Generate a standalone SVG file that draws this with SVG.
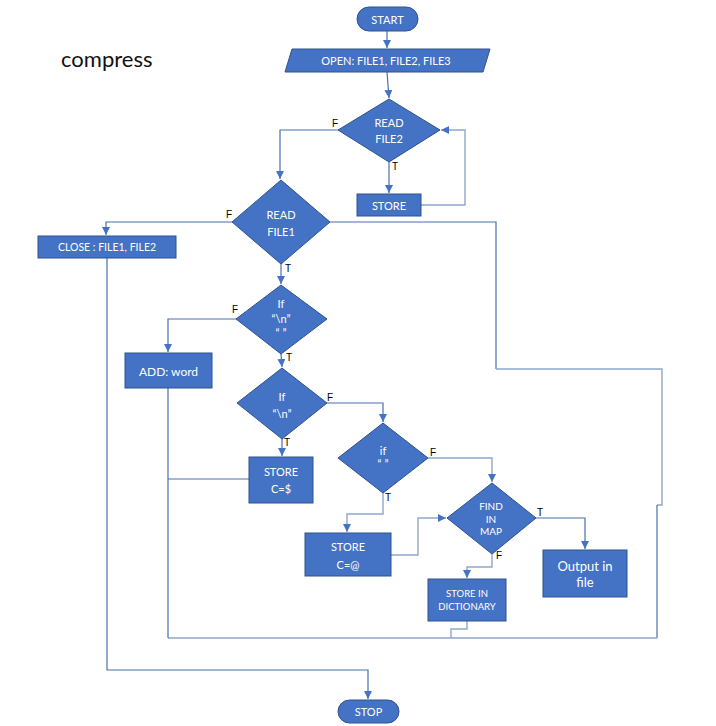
<svg xmlns="http://www.w3.org/2000/svg" width="716" height="726" viewBox="0 0 716 726">
<defs>
<marker id="arr" markerUnits="userSpaceOnUse" markerWidth="9" markerHeight="9" refX="8" refY="4" orient="auto">
<path d="M0,0 L8,4 L0,8 z" fill="#4472C4"/>
</marker>
<style>
.n{fill:#4472C4;stroke:#2F528F;stroke-width:1}
.t{fill:#fff;font-family:Lato,"Liberation Sans",sans-serif;font-size:11px;text-anchor:middle;dominant-baseline:central}
.c{fill:none;stroke:#4A6FAE;stroke-width:1.2}
.cl{fill:none;stroke:#8FA6CC;stroke-width:1.4}
.a{marker-end:url(#arr)}
.l{fill:#000;font-family:"Liberation Sans",Arial,sans-serif;font-size:10px}
</style>
</defs>
<rect width="716" height="726" fill="#fff"/>
<text x="61" y="67" font-family="Lato,'Liberation Sans',sans-serif" font-size="22" fill="#111">compress</text>

<g id="connectors">
<path class="c a" d="M387,31 L387,48"/>
<path class="c a" d="M387,72 L389,98"/>
<path class="c a" d="M338,130 L280,130 L280,179"/>
<path class="c a" d="M389,162 L389,193"/>
<path class="cl a" d="M421,205 L465,205 L465,130 L441,130"/>
<path class="c a" d="M232,222 L106,222 L106,235"/>
<path class="c a" d="M107,258 L107,670 L368,670 L368,699"/>
<path class="c a" d="M281,264 L281,284"/>
<path class="c" d="M330,222 L496,222 L496,369"/>
<path class="cl" d="M496,369 L662,369 L662,505 L657,505"/>
<path class="c" d="M657,505 L657,638"/>
<path class="cl" d="M657,638 L168,638"/>
<path class="c a" d="M236,319 L168,319 L168,352"/>
<path class="c" d="M168,388 L168,638"/>
<path class="c a" d="M281,354 L282,367"/>
<path class="c a" d="M327,403 L383,403 L383,422"/>
<path class="c a" d="M282,439 L282,456"/>
<path class="c" d="M249,479 L168,479"/>
<path class="cl a" d="M383,493 L383,514 L347,514 L347,532"/>
<path class="cl a" d="M428,458 L492,458 L492,482"/>
<path class="cl a" d="M391,555 L418,555 L418,518 L446,518"/>
<path class="c a" d="M536,518 L585,518 L585,549"/>
<path class="cl a" d="M492,554 L492,567 L467,567 L467,578"/>
<path class="cl" d="M467,621 L467,629 L451,629 L451,638"/>
</g>

<g id="start"><rect class="n" x="357" y="7" width="61" height="24" rx="12"/><text class="t" x="387.5" y="19">START</text></g>
<g id="open"><polygon class="n" points="292,49 490,49 483,72 285,72"/><text class="t" x="386" y="60.5">OPEN: FILE1, FILE2, FILE3</text></g>
<g id="readfile2"><polygon class="n" points="389,99 440,130 389,162 338,130"/><text class="t" x="389" y="122">READ</text><text class="t" x="389" y="138">FILE2</text></g>
<g id="store1"><rect class="n" x="357" y="194" width="64" height="22"/><text class="t" x="389" y="205">STORE</text></g>
<g id="readfile1"><polygon class="n" points="281,180 330,222 281,264 232,222"/><text class="t" x="281" y="214">READ</text><text class="t" x="281" y="231">FILE1</text></g>
<g id="close"><rect class="n" x="38" y="236" width="138" height="22"/><text class="t" x="107" y="247" style="font-size:10.5px">CLOSE : FILE1, FILE2</text></g>
<g id="if1"><polygon class="n" points="281,285 327,319 281,354 236,319"/><text class="t" x="281" y="303">If</text><text class="t" x="281" y="318">“\n”</text><text class="t" x="281" y="332">“ ”</text></g>
<g id="addword"><rect class="n" x="125" y="353" width="87" height="35"/><text class="t" x="168.5" y="371" style="font-size:12px">ADD: word</text></g>
<g id="if2"><polygon class="n" points="282,368 327,403 282,439 237,403"/><text class="t" x="282" y="396">If</text><text class="t" x="282" y="413">“\n”</text></g>
<g id="storedollar"><rect class="n" x="249" y="457" width="64" height="46"/><text class="t" x="281" y="471">STORE</text><text class="t" x="281" y="488">C=$</text></g>
<g id="if3"><polygon class="n" points="383,423 428,458 383,493 338,458"/><text class="t" x="383" y="450">if</text><text class="t" x="383" y="463">“ ”</text></g>
<g id="storeat"><rect class="n" x="305" y="533" width="86" height="43"/><text class="t" x="348" y="546">STORE</text><text class="t" x="348" y="564">C=@</text></g>
<g id="findinmap"><polygon class="n" points="492,483 536,518 492,554 447,518"/><text class="t" x="491" y="506" style="font-size:10px">FIND</text><text class="t" x="491" y="519" style="font-size:10px">IN</text><text class="t" x="491" y="531" style="font-size:10px">MAP</text></g>
<g id="output"><rect class="n" x="543" y="550" width="84" height="47"/><text class="t" x="585" y="566" style="font-size:13px">Output in</text><text class="t" x="585" y="582" style="font-size:13px">file</text></g>
<g id="dictionary"><rect class="n" x="428" y="579" width="78" height="42"/><text class="t" x="467" y="593" style="font-size:9.5px">STORE IN</text><text class="t" x="467" y="606" style="font-size:9.5px">DICTIONARY</text></g>
<g id="stop"><rect class="n" x="338" y="700" width="61" height="23" rx="11.5"/><text class="t" x="368.5" y="711.5">STOP</text></g>

<g id="labels">
<text class="l" x="332" y="127">F</text>
<text class="l" x="392" y="170">T</text>
<text class="l" x="226" y="218">F</text>
<text class="l" x="285" y="272">T</text>
<text class="l" x="232" y="313">F</text>
<text class="l" x="286" y="361">T</text>
<text class="l" x="327" y="401">F</text>
<text class="l" x="284" y="446">T</text>
<text class="l" x="430" y="456">F</text>
<text class="l" x="385" y="501">T</text>
<text class="l" x="537" y="516">T</text>
<text class="l" x="496" y="559">F</text>
</g>
</svg>
